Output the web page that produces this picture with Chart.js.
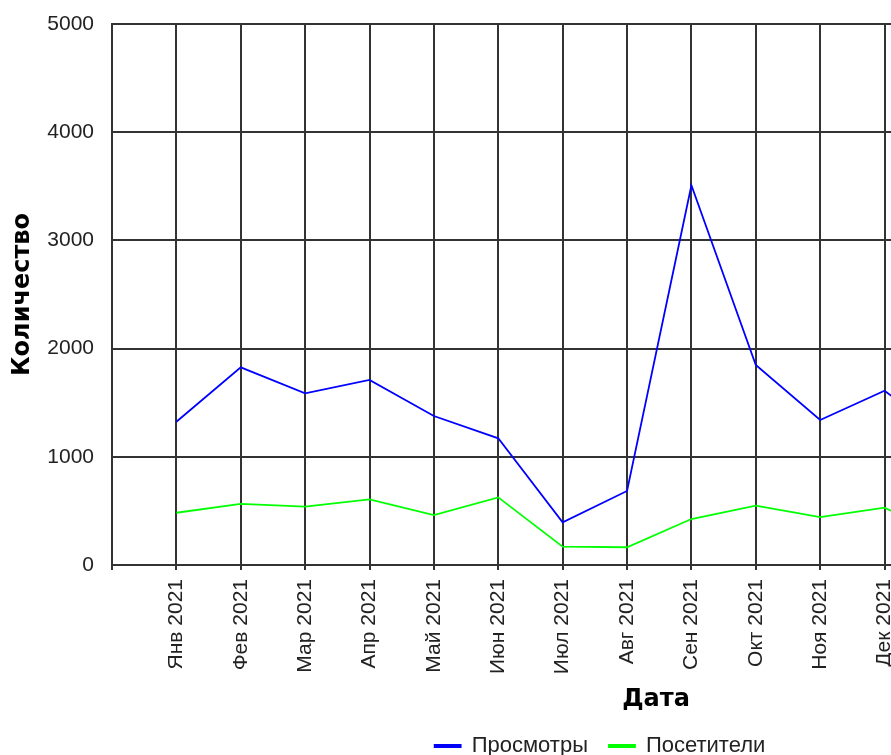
<!DOCTYPE html>
<html lang="ru">
<head>
<meta charset="utf-8">
<title>Просмотры и посетители</title>
<script src="https://cdn.jsdelivr.net/npm/chart.js@4.4.1/dist/chart.umd.min.js"></script>
<style>
html,body{margin:0;padding:0;background:#fff;overflow:hidden;}
#wrap{width:891px;height:755px;overflow:hidden;}
canvas{display:block;}
</style>
</head>
<body>
<div id="wrap"><canvas id="chart" width="1200" height="767"></canvas></div>
<script>
// monthly data
var months=['Янв 2021','Фев 2021','Мар 2021','Апр 2021','Май 2021','Июн 2021','Июл 2021','Авг 2021','Сен 2021','Окт 2021','Ноя 2021','Дек 2021','Янв 2022'];
var views=[1324,1827,1587,1710,1377,1171,395,684,3510,1848,1340,1611,1170];
var visitors=[483,564,539,607,462,625,169,164,425,548,443,530,250];
var yMin=0, yMax=5000, yStep=1000;

var gridCol='#333';
var txtFont="'Liberation Sans', Arial, sans-serif";
var boldFont={family:"'DejaVu Sans', sans-serif",weight:'bold',size:24,lineHeight:1.2};

function pts(arr){
    return months.map(function(m,i){return {x:i,y:arr[i]};});
}

Chart.defaults.font.family=txtFont;
Chart.defaults.font.size=21;
Chart.defaults.color='#222';

new Chart(document.getElementById('chart').getContext('2d'),{
    type:'line',
    data:{datasets:[
        {label:'Просмотры',data:pts(views),borderColor:'#0000ff',backgroundColor:'#0000ff',borderWidth:1.8,pointRadius:0,tension:0},
        {label:'Посетители',data:pts(visitors),borderColor:'#00ff00',backgroundColor:'#00ff00',borderWidth:1.8,pointRadius:0,tension:0}
    ]},
    options:{
        responsive:false,
        devicePixelRatio:1,
        animation:false,
        layout:{padding:{top:24,left:0,right:0,bottom:0}},
        scales:{
            x:{
                type:'linear',min:-1,max:15.9,
                ticks:{stepSize:1,autoSkip:false,minRotation:90,maxRotation:90,padding:9,color:'#222',
                    callback:function(v){return months[v]!==undefined?months[v]:'';}},
                grid:{color:gridCol,lineWidth:2,tickLength:5,drawTicks:true},
                border:{color:gridCol,width:2},
                title:{display:true,text:'Дата',color:'#000',font:boldFont,padding:{top:0,bottom:0}},
                afterFit:function(s){s.height=149;s.paddingLeft=0;s.paddingRight=0;}
            },
            y:{
                min:yMin,max:yMax,
                ticks:{stepSize:yStep,padding:18,color:'#222',callback:function(v){return String(v);}},
                grid:{color:gridCol,lineWidth:2,drawTicks:false},
                border:{color:gridCol,width:2},
                title:{display:true,text:'Количество',color:'#000',font:boldFont,padding:{top:8,bottom:0}},
                afterFit:function(s){s.width=112;s.paddingTop=0;s.paddingBottom=0;}
            }
        },
        plugins:{
            legend:{position:'bottom',labels:{boxWidth:26,boxHeight:2,padding:21,color:'#222',font:{size:22}}},
            tooltip:{enabled:false}
        }
    }
});
</script>
</body>
</html>
